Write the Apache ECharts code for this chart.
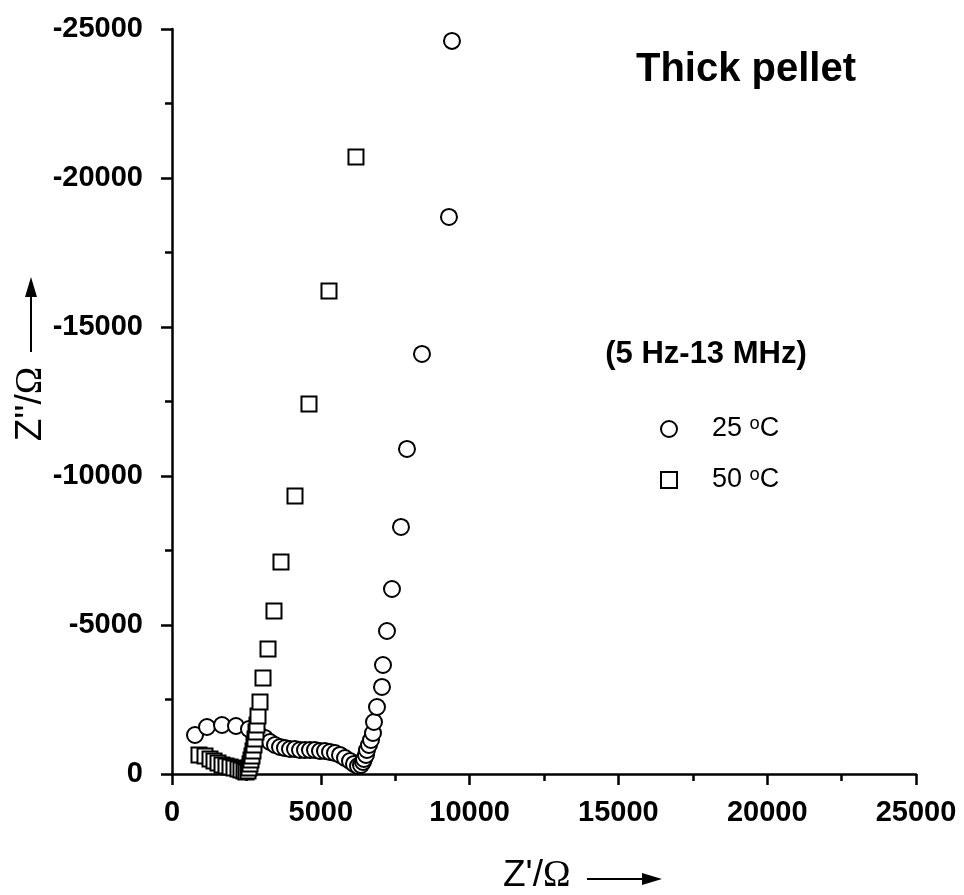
<!DOCTYPE html>
<html>
<head>
<meta charset="UTF-8">
<title>Thick pellet</title>
<script src="https://cdn.jsdelivr.net/npm/echarts@6/dist/echarts.min.js"></script>
<style>
  html, body { margin: 0; padding: 0; background: #fff; }
  #chart { width: 964px; height: 895px; }
</style>
</head>
<body>
<div id="chart"></div>
<script>
// 25 oC, Z' (ohm) and Z'' (ohm)
var zre25 = [773, 1176, 1680, 2150, 2587, 2890, 3125, 3293, 3461, 3629, 3797, 3965, 4133, 4301, 4469,
  4637, 4805, 4973, 5141, 5309, 5477, 5645, 5813, 5981, 6115, 6250, 6350, 6418, 6451, 6518,
  6552, 6619, 6686, 6754, 6787, 6888, 7056, 7090, 7224, 7392, 7694, 7896, 8400, 9307, 9408];
var zim25 = [-1309, -1577, -1644, -1611, -1510, -1376, -1208, -1074, -973, -906, -872, -839, -839, -805, -805,
  -805, -805, -772, -772, -738, -705, -638, -537, -436, -336, -268, -302, -403, -503, -638,
  -805, -973, -1141, -1376, -1745, -2248, -2920, -3658, -4799, -6208, -8289, -10907, -14095, -18693, -24600];

// 50 oC
var zre50 = [907, 1109, 1277, 1411, 1546, 1680, 1814, 1949, 2083, 2218, 2318, 2419, 2486, 2554, 2587,
  2621, 2654, 2688, 2722, 2755, 2789, 2822, 2856, 2890, 2957, 3058, 3226, 3427, 3662, 4133,
  4603, 5275, 6182];
var zim50 = [-638, -604, -503, -436, -369, -302, -268, -235, -201, -168, -134, -101, -67, -101, -201,
  -336, -470, -604, -772, -973, -1175, -1410, -1644, -1946, -2416, -3222, -4195, -5470, -7115, -9330,
  -12417, -16209, -20706];

var seriesNames = ['25 \u1D52C', '50 \u1D52C'];
var xTicks = [0, 5000, 10000, 15000, 20000, 25000];
var yTicks = [0, -5000, -10000, -15000, -20000, -25000];

function pairs(xs, ys) {
  return xs.map(function (x, i) { return [x, ys[i]]; });
}

var sans = 'Liberation Sans, Arial, sans-serif';
var serif = 'Liberation Serif, Times New Roman, serif';

var myChart = echarts.init(document.getElementById('chart'), null, { renderer: 'canvas' });

var option = {
  backgroundColor: '#fff',
  animation: false,
  grid: { left: 172, right: 48, top: 29, bottom: 121, outerBoundsMode: 'none' },
  xAxis: {
    type: 'value',
    min: xTicks[0], max: xTicks[xTicks.length - 1], interval: 5000,
    splitLine: { show: false },
    axisLine: { onZero: false, lineStyle: { color: '#000', width: 2.5 } },
    axisTick: { length: 11, lineStyle: { color: '#000', width: 2.5 } },
    minorTick: { show: true, splitNumber: 2, length: 7, lineStyle: { color: '#000', width: 2.5 } },
    axisLabel: { color: '#000', fontFamily: sans, fontWeight: 'bold', fontSize: 29, margin: 24,
      formatter: function (v) { return String(v); } }
  },
  yAxis: {
    type: 'value',
    inverse: true,
    min: yTicks[yTicks.length - 1], max: yTicks[0], interval: 5000,
    splitLine: { show: false },
    axisLine: { onZero: false, lineStyle: { color: '#000', width: 2.5 } },
    axisTick: { length: 11, lineStyle: { color: '#000', width: 2.5 } },
    minorTick: { show: true, splitNumber: 2, length: 7, lineStyle: { color: '#000', width: 2.5 } },
    axisLabel: { color: '#000', fontFamily: sans, fontWeight: 'bold', fontSize: 29, margin: 29,
      formatter: function (v) { return String(v); } }
  },
  legend: {
    orient: 'vertical',
    left: 655, top: 409,
    itemWidth: 16, itemHeight: 16, itemGap: 21,
    data: seriesNames,
    textStyle: {
      fontFamily: sans, fontSize: 27, color: '#000', lineHeight: 30,
      padding: [0, 0, 0, 30]
    }
  },
  graphic: [
    { type: 'text', x: 746, y: 70,
      style: { text: 'Thick pellet', fill: '#000', font: 'bold 40px ' + sans, align: 'center', verticalAlign: 'middle' } },
    { type: 'text', x: 706, y: 354,
      style: { text: '(5 Hz-13 MHz)', fill: '#000', font: 'bold 31px ' + sans, align: 'center', verticalAlign: 'middle' } },
    // x axis title
    { type: 'text', x: 503, y: 876,
      style: { text: '{a|Z\'/}{b|\u03A9}', align: 'left', verticalAlign: 'middle',
        rich: { a: { fontFamily: sans, fontSize: 37, fill: '#000' }, b: { fontFamily: serif, fontSize: 37, fill: '#000' } } } },
    { type: 'line', shape: { x1: 587, y1: 879, x2: 648, y2: 879 }, style: { stroke: '#000', lineWidth: 2 } },
    { type: 'polygon', shape: { points: [[662, 879], [642, 873], [642, 885]] }, style: { fill: '#000' } },
    // y axis title
    { type: 'text', x: 31, y: 404, rotation: Math.PI / 2,
      style: { text: '{a|Z\'\'/}{b|\u03A9}', align: 'center', verticalAlign: 'middle',
        rich: { a: { fontFamily: sans, fontSize: 37, fill: '#000' }, b: { fontFamily: serif, fontSize: 37, fill: '#000' } } } },
    { type: 'line', shape: { x1: 31, y1: 352, x2: 31, y2: 292 }, style: { stroke: '#000', lineWidth: 2 } },
    { type: 'polygon', shape: { points: [[31, 277], [25, 297], [37, 297]] }, style: { fill: '#000' } }
  ],
  series: [
    {
      name: seriesNames[0],
      type: 'scatter',
      symbol: 'circle',
      symbolSize: 16,
      itemStyle: { color: '#fff', borderColor: '#000', borderWidth: 2, opacity: 1 },
      data: pairs(zre25, zim25)
    },
    {
      name: seriesNames[1],
      type: 'scatter',
      symbol: 'rect',
      symbolSize: 15,
      itemStyle: { color: '#fff', borderColor: '#000', borderWidth: 2, opacity: 1 },
      data: pairs(zre50, zim50)
    }
  ]
};

myChart.setOption(option);
</script>
</body>
</html>
